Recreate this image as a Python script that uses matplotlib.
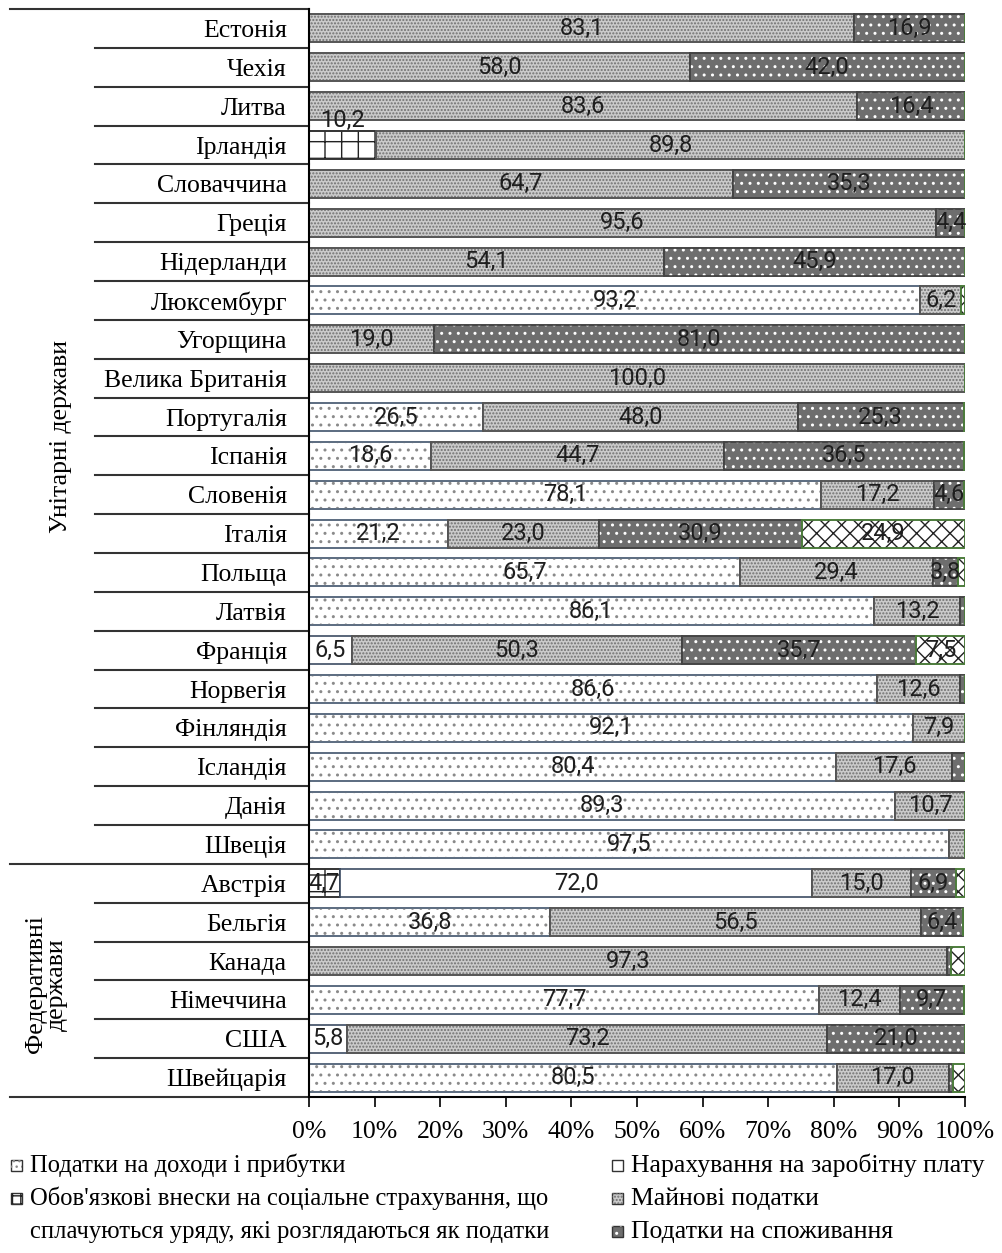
import numpy as np
import matplotlib.pyplot as plt
from matplotlib.patches import Rectangle

plt.rcParams['hatch.linewidth'] = 1.0

countries = ["Естонія", "Чехія", "Литва", "Ірландія", "Словаччина", "Греція",
             "Нідерланди", "Люксембург", "Угорщина", "Велика Британія",
             "Португалія", "Іспанія", "Словенія", "Італія", "Польща", "Латвія",
             "Франція", "Норвегія", "Фінляндія", "Ісландія", "Данія", "Швеція",
             "Австрія", "Бельгія", "Канада", "Німеччина", "США", "Швейцарія"]

# shares of each tax type, %
income = [0, 0, 0, 0, 0, 0, 0, 93.2, 0, 0, 26.5, 18.6, 78.1, 21.2, 65.7, 86.1,
          0, 86.6, 92.1, 80.4, 89.3, 97.5, 0, 36.8, 0, 77.7, 0, 80.5]
social = [0, 0, 0, 10.2, 0, 0, 0, 0, 0, 0, 0, 0, 0, 0, 0, 0,
          0, 0, 0, 0, 0, 0, 4.7, 0, 0, 0, 0, 0]
payroll = [0, 0, 0, 0, 0, 0, 0, 0, 0, 0, 0, 0, 0, 0, 0, 0,
           6.5, 0, 0, 0, 0, 0, 72.0, 0, 0, 0, 5.8, 0]
property_ = [83.1, 58.0, 83.6, 89.8, 64.7, 95.6, 54.1, 6.2, 19.0, 100.0, 48.0, 44.7,
             17.2, 23.0, 29.4, 13.2, 50.3, 12.6, 7.9, 17.6, 10.7, 2.5, 15.0, 56.5,
             97.3, 12.4, 73.2, 17.0]
consumption = [16.9, 42.0, 16.4, 0, 35.3, 4.4, 45.9, 0, 81.0, 0, 25.3, 36.5,
               4.6, 30.9, 3.8, 0.7, 35.7, 0.8, 0, 2.0, 0, 0, 6.9, 6.4,
               0.5, 9.7, 21.0, 0.6]
other = [0, 0, 0, 0, 0, 0, 0, 0.6, 0, 0, 0.2, 0.2, 0, 24.9, 1.1, 0,
         7.5, 0, 0, 0, 0, 0, 1.4, 0, 2.2, 0.2, 0, 1.9]

legend_left = ["Податки на доходи і прибутки",
               "Обов'язкові внески на соціальне страхування, що\n"
               "сплачуються уряду, які розглядаються як податки"]
legend_right = ["Нарахування на заробітну плату", "Майнові податки",
                "Податки на споживання"]

# face, edge, hatch, hatch colour
styles = [
    ('white', '#5b6b80', '..', '#8a8a8a'),
    ('white', '#333333', '+', '#222222'),
    ('white', '#3c4c62', None, None),
    ('#cbcbcb', '#555555', '.....', '#707070'),
    ('#6e6e6e', '#444444', '..', 'white'),
    ('white', '#4d7d3c', 'xx', '#222222'),
]
series = [income, social, payroll, property_, consumption, other]

serif = 'Liberation Serif'
numfont = 'Roboto'

fig = plt.figure(figsize=(10.02, 12.53), dpi=100)
ax = fig.add_axes([0.3084, 0.1245, 0.6547, 0.8683])

y = np.arange(len(countries))
left = np.zeros(len(countries))
bar_h = 0.72
for vals, (fc, ec, hatch, hc) in zip(series, styles):
    vals = np.array(vals)
    ax.barh(y, vals, left=left, height=bar_h, color=fc, edgecolor=ec, linewidth=1.2)
    if hatch:
        ax.barh(y, vals, left=left, height=bar_h, color='none', edgecolor=hc,
                hatch=hatch, linewidth=0)
        ax.barh(y, vals, left=left, height=bar_h, color='none', edgecolor=ec,
                linewidth=1.2)
    for i, v in enumerate(vals):
        if v >= 3.5:
            dy = -0.62 if (countries[i] == "Ірландія" and v == social[i]) else 0
            ax.text(left[i] + v / 2, y[i] + dy, f"{v:.1f}".replace('.', ','),
                    ha='center', va='center', fontsize=17, color='#1e1e1e',
                    family=numfont)
    left += vals

ax.set_xlim(0, 100)
ax.set_ylim(len(countries) - 0.5, -0.5)
ax.set_xticks(np.arange(0, 101, 10))
ax.set_xticklabels([f"{t}%" for t in range(0, 101, 10)], family=serif, fontsize=18.5)
ax.tick_params(axis='x', direction='out', length=7, width=1.2, pad=10)
ax.set_yticks(y)
ax.set_yticklabels(countries, family=serif, fontsize=18.5)
ax.tick_params(axis='y', length=0, pad=16)
for s in ['top', 'right']:
    ax.spines[s].set_visible(False)
ax.spines['left'].set_linewidth(1.5)
ax.spines['bottom'].set_linewidth(1.5)

# row separators of the label table
tr = ax.get_yaxis_transform()
for b in np.arange(0.5, len(countries) - 1, 1):
    if b == 21.5:
        continue
    ax.plot([-0.326, 0], [b, b], transform=tr, color='#333333', lw=1.5, clip_on=False)
for b in (-0.5, 21.5, 27.5):
    ax.plot([-0.456, 0], [b, b], transform=tr, color='#333333', lw=1.5, clip_on=False)

ax.text(-0.378, 10.5, "Унітарні держави", transform=tr, rotation=90,
        ha='center', va='center', family=serif, fontsize=18.5)
ax.text(-0.40, 24.6, "Федеративні\nдержави", transform=tr, rotation=90,
        ha='center', va='center', family=serif, fontsize=18.5, linespacing=0.95)

# legend
def legend_item(x, yy, style, lines, size, hatch_override=None):
    fc, ec, hatch, hc = style
    hatch = hatch_override or hatch
    fig.patches.append(Rectangle((x, yy - 0.0045), 0.011, 0.009, transform=fig.transFigure,
                                 facecolor=fc, edgecolor='#333333', lw=1.0))
    if hatch:
        fig.patches.append(Rectangle((x, yy - 0.0045), 0.011, 0.009,
                                     transform=fig.transFigure, facecolor='none',
                                     edgecolor=hc, hatch=hatch, lw=0))
    for k, line in enumerate(lines.split('\n')):
        fig.text(x + 0.019, yy - k * 0.0265, line, ha='left', va='center',
                 family=serif, fontsize=size)

rows_y = [0.0700, 0.0435, 0.0170]
legend_item(0.011, rows_y[0], styles[0], legend_left[0], 17.7, '...')
legend_item(0.011, rows_y[1], styles[1], legend_left[1], 17.7, '++')
for k, lab in enumerate(legend_right):
    legend_item(0.611, rows_y[k], styles[k + 2], lab, 18.5)

fig.savefig("out.png", dpi=100)
